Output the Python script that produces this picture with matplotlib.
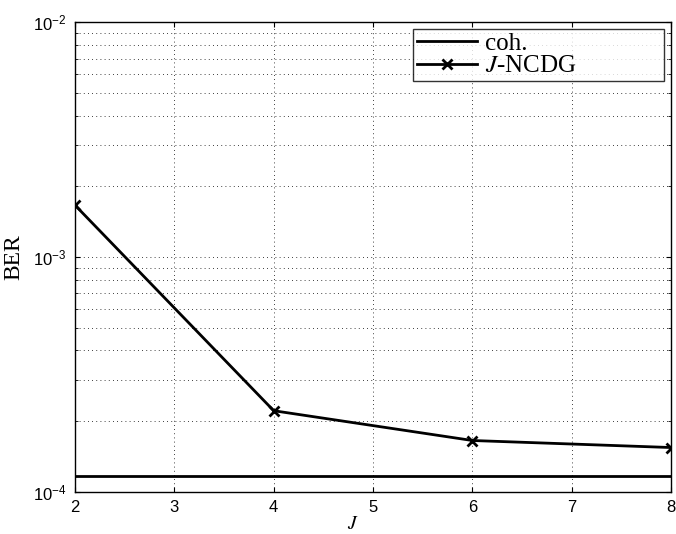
import numpy as np
import matplotlib
matplotlib.use("Agg")
import matplotlib.pyplot as plt
from matplotlib.ticker import LogLocator, NullFormatter

plt.rcParams["mathtext.fontset"] = "stix"

J = [2, 4, 6, 8]
ber_ncdg = [1.66e-3, 2.21e-4, 1.65e-4, 1.54e-4]
coh_x = [2, 8]
coh_ber = [1.17e-4, 1.17e-4]

fig = plt.figure(figsize=(6.76, 5.34), dpi=100)
ax = fig.add_axes([0.111, 0.0795, 0.8817, 0.879])

ax.semilogy(coh_x, coh_ber, color="black", lw=2, label="coh.")
ax.semilogy(J, ber_ncdg, color="black", lw=2, marker="x", ms=7, mew=2,
            label=r"$J$-NCDG")

ax.set_xlim(2, 8)
ax.set_ylim(1e-4, 1e-2)
ax.yaxis.set_major_locator(LogLocator(base=10, numticks=10))
ax.yaxis.set_minor_locator(LogLocator(base=10, subs=np.arange(2, 10), numticks=20))
ax.yaxis.set_minor_formatter(NullFormatter())

ax.grid(True, which="major", ls=(0, (1, 4)), color="black", lw=0.6)
ax.grid(True, which="minor", axis="y", ls=(0, (1, 4)), color="black", lw=0.6)

ax.tick_params(which="both", direction="in", top=True, right=True,
               labelsize=12, pad=6)
for lab in ax.get_xticklabels() + ax.get_yticklabels():
    lab.set_family("Liberation Sans")

ax.set_xlabel(r"$J$", fontsize=14)
ax.xaxis.set_label_coords((353 - 75) / 596, -0.048)
ax.set_ylabel("BER", fontsize=17, family="Liberation Serif", labelpad=6)

leg = ax.legend(loc="upper left", bbox_to_anchor=(0.567, 0.883, 0.421, 0.103),
                mode="expand", prop={"family": "Liberation Serif", "size": 18},
                frameon=True, fancybox=False, edgecolor="black",
                handlelength=2.4, borderpad=0.15, labelspacing=0.0,
                borderaxespad=0.0, handletextpad=0.35)
leg.get_frame().set_linewidth(1.0)

for s in ax.spines.values():
    s.set_linewidth(1.0)

fig.savefig("out.png", dpi=100)
